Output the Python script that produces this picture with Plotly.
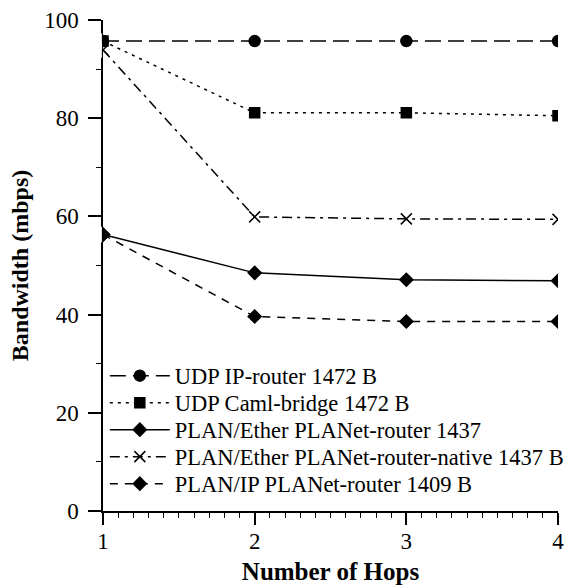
import plotly.graph_objects as go

hops = [1, 2, 3, 4]
names = [
    "UDP IP-router 1472 B",
    "UDP Caml-bridge 1472 B",
    "PLAN/Ether PLANet-router 1437",
    "PLAN/Ether PLANet-router-native 1437 B",
    "PLAN/IP PLANet-router 1409 B",
]
udp_ip = [95.7, 95.7, 95.7, 95.7]
udp_caml = [95.7, 81.1, 81.1, 80.5]
plan_ether = [56.3, 48.5, 47.1, 46.9]
plan_native = [93.9, 59.9, 59.5, 59.4]
plan_ip = [56.3, 39.6, 38.6, 38.6]

series = [udp_ip, udp_caml, plan_ether, plan_native, plan_ip]
dashes = ["16px,7px", "3px,5px", "solid", "10px,5px,3px,5px", "8px,7px"]
symbols = ["circle", "square", "diamond", "x-thin", "diamond"]
sizes = [11, 10, 10, 11, 10]

FONT = "Liberation Serif, Times New Roman, serif"

# plot area geometry (px)
W, H = 567, 585
ML, MR, MT, MB = 103, 9, 20, 74
PH = H - MT - MB
legend_rows_px = [376, 403, 430, 457, 484]  # row centres from top of page

fig = go.Figure()
legend_ids = ["legend", "legend2", "legend3", "legend4", "legend5"]
for name, ys, d, s, sz, lid in zip(names, series, dashes, symbols, sizes, legend_ids):
    fig.add_trace(go.Scatter(
        x=hops, y=ys, name=name, mode="lines+markers", cliponaxis=True,
        legend=lid,
        line=dict(color="black", width=1.5, dash=d),
        marker=dict(symbol=s, size=sz, color="black",
                    line=dict(color="black", width=1.5)),
    ))

legend_layouts = {}
for lid, ypx in zip(legend_ids, legend_rows_px):
    legend_layouts[lid] = dict(
        x=0.004, y=(H - MB - ypx) / PH, xanchor="left", yanchor="middle",
        bgcolor="rgba(0,0,0,0)", font=dict(family=FONT, size=22.5),
        itemwidth=60, tracegroupgap=0,
    )

# white masks emulating the clipping of edge markers at the plot border
shapes = []
first_vals = sorted(set(s[0] for s in series))
for v in first_vals:
    shapes.append(dict(type="rect", xref="paper", yref="y", layer="above",
                       x0=-0.04, x1=-0.0025, y0=v - 1.6, y1=v + 1.6,
                       fillcolor="white", line=dict(width=0)))
shapes.append(dict(type="rect", xref="paper", yref="paper", layer="above",
                   x0=1.0025, x1=1.05, y0=0.02, y1=1.0,
                   fillcolor="white", line=dict(width=0)))

fig.update_layout(
    width=W, height=H,
    margin=dict(l=ML, r=MR, t=MT, b=MB, autoexpand=False),
    paper_bgcolor="white", plot_bgcolor="white",
    font=dict(family=FONT, size=22, color="black"),
    showlegend=True,
    shapes=shapes,
    xaxis=dict(range=[1, 4], tickvals=[1, 2, 3, 4], showgrid=False, zeroline=False,
               showline=True, linecolor="black", linewidth=1.5, automargin=False,
               ticks="outside", ticklen=12, tickwidth=1.5, tickcolor="black",
               ticklabelstandoff=-3,
               minor=dict(dtick=0.1, ticks="outside", ticklen=5, tickwidth=1.2,
                          tickcolor="black", showgrid=False),
               title=dict(text="<b>Number of Hops</b>", font=dict(family=FONT, size=25), standoff=12),
               tickfont=dict(family=FONT, size=23)),
    yaxis=dict(range=[0, 100], tickvals=[0, 20, 40, 60, 80, 100], showgrid=False, zeroline=False,
               showline=True, linecolor="black", linewidth=1.5, automargin=False,
               ticks="outside", ticklen=13, tickwidth=1.5, tickcolor="black",
               ticklabelstandoff=5,
               minor=dict(dtick=10, ticks="outside", ticklen=5, tickwidth=1.2,
                          tickcolor="black", showgrid=False),
               title=dict(text="<b>Bandwidth (mbps)</b>", font=dict(family=FONT, size=24), standoff=9),
               tickfont=dict(family=FONT, size=23)),
)
for lid, lay in legend_layouts.items():
    fig.layout[lid] = lay

fig.write_html("out.html")
